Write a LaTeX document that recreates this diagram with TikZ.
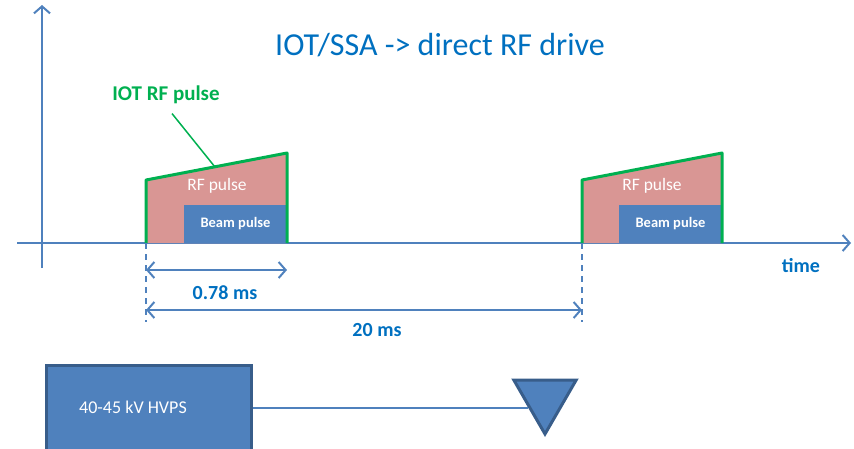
\documentclass[tikz,border=0pt]{standalone}
\usepackage{fontspec}
\setmainfont{Carlito}
\usetikzlibrary{shapes.geometric,arrows.meta}
\definecolor{axisblue}{RGB}{79,129,189}
\definecolor{textblue}{RGB}{0,112,192}
\definecolor{rfpink}{RGB}{217,150,148}
\definecolor{beamblue}{RGB}{79,129,189}
\definecolor{edgeblue}{RGB}{56,93,138}
\definecolor{iotgreen}{RGB}{0,176,80}
\tikzstyle{axis} = [draw=axisblue, line width=2pt, -{Straight Barb[length=7pt,width=16pt]}]
\tikzstyle{dim} = [draw=axisblue, line width=2pt, {Straight Barb[length=7pt,width=16pt]}-{Straight Barb[length=7pt,width=16pt]}]
\tikzstyle{guide} = [draw=axisblue, line width=1.5pt, dash pattern=on 6pt off 5pt]
\tikzstyle{rfshape} = [fill=rfpink]
\tikzstyle{outline} = [draw=iotgreen, line width=3pt, line join=round]
\tikzstyle{beam} = [rectangle, fill=beamblue, text=white, font=\fontsize{14.5}{16}\selectfont\bfseries,
    minimum width=103pt, minimum height=38pt, inner sep=0pt]
\tikzstyle{rflabel} = [text=white, font=\fontsize{17.5}{20}\selectfont]
\tikzstyle{dimlabel} = [text=textblue, font=\fontsize{20}{22}\selectfont\bfseries]
\tikzstyle{hvps} = [rectangle, draw=edgeblue, line width=3pt, fill=beamblue,
    minimum width=205pt, minimum height=92pt]
\tikzstyle{valve} = [regular polygon, regular polygon sides=3, shape border rotate=180,
    draw=edgeblue, line width=3pt, fill=beamblue, minimum size=72pt, inner sep=0pt]
\tikzstyle{link} = [draw=axisblue, line width=1.5pt]

\begin{document}
\begin{tikzpicture}[x=1pt, y=-1pt]
        \useasboundingbox (0,0) rectangle (854,448);
        % Axes
        \coordinate (ybot) at (42,268);
        \coordinate (ytop) at (42,5);
        \coordinate (xleft) at (17,243);
        \coordinate (xright) at (851,243);
        \draw [axis] (ybot) -- (ytop);
        \draw [axis] (xleft) -- (xright);
        \node [text=textblue, font=\fontsize{32}{36}\selectfont] (title) at (440,45) {IOT/SSA -> direct RF drive};
        \node [dimlabel] (time) at (801,266) {time};
        % First pulse
        \fill [rfshape] (146,243) -- (146,180) -- (287,153) -- (287,243) -- cycle;
        \node [beam] (beamA) at (235.5,224) {Beam pulse};
        \node [rflabel] (rfA) at (217,186) {RF pulse};
        \draw [outline] (146,243) -- (146,180) -- (287,153) -- (287,243);
        % Second pulse
        \fill [rfshape] (582,243) -- (582,180) -- (722,153) -- (722,243) -- cycle;
        \node [beam] (beamB) at (670.5,224) {Beam pulse};
        \node [rflabel] (rfB) at (652,186) {RF pulse};
        \draw [outline] (582,243) -- (582,180) -- (722,153) -- (722,243);
        % IOT label
        \node [text=iotgreen, font=\fontsize{21}{24}\selectfont\bfseries] (iotlabel) at (166,95) {IOT RF pulse};
        \coordinate (slopeA) at (215,167);
        \draw [iotgreen, line width=1.5pt] ([xshift=6pt,yshift=-6pt]iotlabel.south) -- (slopeA);
        % Timing
        \coordinate (startA) at (146,243);
        \coordinate (startB) at (582,243);
        \coordinate (guideA) at (146,322);
        \coordinate (guideB) at (582,322);
        \draw [guide] (startA) -- (guideA);
        \draw [guide] (startB) -- (guideB);
        \coordinate (wA) at (146,270);
        \coordinate (wB) at (287,270);
        \coordinate (pA) at (146,310);
        \coordinate (pB) at (582,310);
        \draw [dim] (wA) -- (wB);
        \draw [dim] (pA) -- (pB);
        \node [dimlabel] (width) at (225,293) {0.78 ms};
        \node [dimlabel] (period) at (377,330) {20 ms};
        % Supply
        \node [hvps] (supply) at (148.5,411) {};
        \node [text=white, font=\fontsize{18}{20}\selectfont] (supplytext) at (133,407) {40-45 kV HVPS};
        \node [valve] (valve) at (545,398) {};
        \path [link] (supply.east |- valve.side 3) -- (valve.side 3);
    \end{tikzpicture}
\end{document}
